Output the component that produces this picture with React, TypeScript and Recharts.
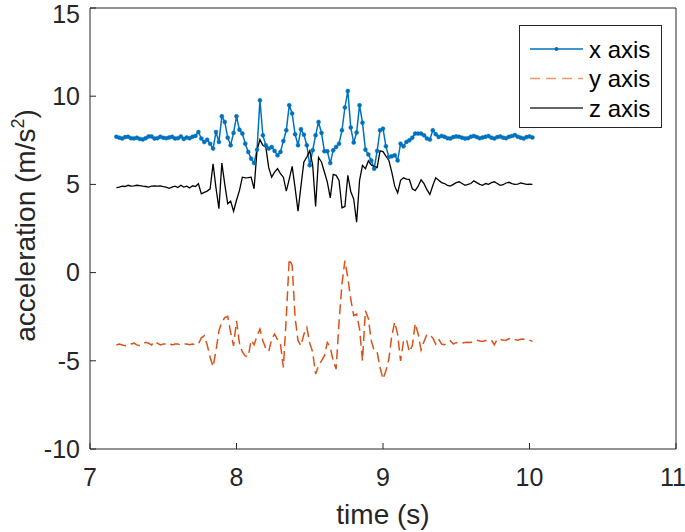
import React from 'react'
import { LineChart, Line, XAxis, YAxis, Legend, Label } from 'recharts'

// sampling grid of the recording (50 Hz)
const START = 7.18
const STEP = 0.02

const xAxisAcc = [
  7.7, 7.65, 7.6, 7.68, 7.7, 7.62, 7.6, 7.65, 7.58, 7.55, 7.62, 7.72, 7.72, 7.6, 7.62, 7.7, 7.64, 7.62, 7.66, 7.7,
  7.6, 7.62, 7.72, 7.58, 7.66, 7.62, 7.7, 7.75,
  7.97, 7.6, 7.4, 7.53, 7.3, 7.03, 7.97, 7.4, 8.86, 8.54, 7.65, 7.22, 7.92, 8.86, 8.1, 7.88, 7.31, 6.84, 6.46, 6.21,
  6.97, 9.77, 7.78, 7.22, 7.03, 7.12, 6.9, 6.65,
  6.84, 7.46, 8.07, 9.49, 9.02, 7.84, 7.22, 8.13, 7.82, 7.22, 6.08, 6.93, 7.78, 8.54, 7.92, 6.88, 6.88, 6.21, 6.93,
  7.12, 7.31, 8.07, 9.36, 10.3, 8.22, 7.37, 7.94, 9.49, 8.5, 6.97, 6.7, 6.36, 5.89, 6.9, 8.07, 8.16, 7.16, 6.55, 6.59,
  6.65, 6.36, 7.31, 7.16, 7.41, 7.5, 7.65, 7.88, 7.88, 7.88, 7.78, 7.6, 7.54, 8.07, 7.84, 7.69,
  7.75, 7.7, 7.62, 7.6, 7.68, 7.72, 7.7, 7.65, 7.6, 7.62, 7.7, 7.75, 7.68, 7.62, 7.66, 7.7, 7.74, 7.65, 7.6, 7.68,
  7.72, 7.65, 7.62, 7.7, 7.74, 7.8, 7.7, 7.65, 7.6, 7.68, 7.72, 7.66,
]

const yAxisAcc = [
  -4.1, -4.05, -4.1, -4.15, -4.1, -4.05, -4.0, -4.1, -4.15, -4.05, -3.95, -4.0, -4.1, -3.9, -4.0, -4.1, -4.05, -4.05,
  -4.0, -4.1, -4.05, -4.05, -4.1, -4.05, -4.05,
  -4.09, -4.05, -4.08, -4.05, -3.7, -3.58, -4.1, -4.8, -5.34, -4.43,
  -3.3, -2.8, -2.55, -2.48, -3.39, -4.15, -2.73, -4.0, -4.5, -4.72,
  -4.77, -3.83, -4.09, -3.6, -3.2, -3.86, -4.3, -4.47, -3.77, -3.48,
  -3.8, -4.05, -5.38, -2.5, 0.78, 0.4, -2.54, -3.86, -4.15, -3.5,
  -3.11, -4.0, -4.5, -5.75, -5.28, -5.0, -4.72, -3.96, -4.24, -5.0,
  -5.47, -2.8, -0.64, 0.68, -0.3, -1.5, -2.44, -2.35, -3.2, -5.0,
  -2.16, -2.6, -3.86, -4.43, -4.5, -5.38, -6.04, -5.57, -4.9, -3.6,
  -2.8, -3.5, -5.0, -3.9, -3.77, -4.5, -4.15, -2.88, -3.48, -4.39,
  -3.9, -3.5, -3.55, -3.7, -4.05, -3.77, -4.05, -4.09, -4.0, -3.86,
  -4.05, -3.96, -4.02, -4.0, -3.96, -3.95, -3.96, -3.9, -3.83, -3.88,
  -3.9, -3.85, -3.83, -3.83, -4.09, -3.77, -3.8, -3.82, -3.83, -3.75,
  -3.71, -3.8, -3.83, -3.78, -3.77, -3.8, -3.83, -3.9,
]

const zAxisAcc = [
  4.82, 4.85, 4.9, 4.88, 4.95, 4.9, 4.92, 4.95, 4.93, 4.9, 4.88, 4.85, 4.9, 4.92, 4.9, 4.92, 4.88, 4.85, 4.78, 4.85,
  4.9, 4.82, 4.95, 4.85, 4.9, 4.8, 4.92, 4.88,
  5.04, 4.47, 4.55, 4.62, 4.75, 6.17, 4.8, 3.62, 6.21, 5.0,
  3.9, 4.05, 3.48, 4.1, 4.65, 5.41, 5.37, 5.38, 5.41, 4.75,
  6.93, 7.54, 7.22, 7.12, 5.95, 5.41, 5.7, 5.89, 5.61, 5.41,
  4.62, 5.3, 6.02, 4.8, 3.48, 4.9, 6.27, 6.55, 6.9, 6.1,
  3.75, 6.52, 6.27, 5.7, 5.13, 4.24, 5.57, 5.51, 5.23, 3.67,
  3.75, 5.51, 4.6, 4.17, 2.86, 5.23, 6.08, 5.89, 6.33, 6.1,
  6.02, 5.95, 6.9, 6.86, 6.6, 6.36, 5.7, 4.9, 4.52, 5.23,
  5.37, 5.3, 5.28, 4.75, 4.65, 4.9, 5.26, 5.04, 4.7, 4.43,
  4.94, 5.37, 5.23,
  5.1, 5.05, 4.95, 4.9, 5.0, 5.1, 5.15, 5.05, 4.95, 5.0, 5.05, 5.2, 5.1, 5.0, 4.95, 5.05, 5.0, 5.1, 5.15, 5.05,
  4.95, 4.98, 5.08, 5.12, 5.05, 5.0, 5.02, 5.08, 5.05, 5.0, 5.02, 5.0,
]

const timeTicks = [7, 8, 9, 10, 11]
const accTicks = [-10, -5, 0, 5, 10, 15]
const seriesNames = ['x axis', 'y axis', 'z axis']

const BLUE = '#0072BD'
const ORANGE = '#D95319'
const AXIS = '#262626'
const FONT = '"Liberation Sans", Arial, Helvetica, sans-serif'

const data = xAxisAcc.map((v, i) => ({
  t: +(START + i * STEP).toFixed(2),
  x: v,
  y: yAxisAcc[i],
  z: zAxisAcc[i],
}))

const tickStyle = { fill: AXIS, fontSize: 25, fontFamily: FONT }

const LegendBox = () => {
  const rows = [
    { name: seriesNames[0], color: BLUE, dash: undefined, dot: true },
    { name: seriesNames[1], color: '#F09870', dash: '10 6', dot: false },
    { name: seriesNames[2], color: '#333', dash: undefined, dot: false },
  ]
  return (
    <svg width={143} height={103} style={{ display: 'block' }}>
      <rect x={0.5} y={0.5} width={142} height={102} fill="#fff" stroke={AXIS} strokeWidth={1} />
      {rows.map((r, i) => {
        const cy = 24 + i * 29.5
        return (
          <g key={r.name}>
            <line x1={11} x2={64} y1={cy} y2={cy} stroke={r.color} strokeWidth={1.5} strokeDasharray={r.dash} />
            {r.dot && <circle cx={37.5} cy={cy} r={2} fill={r.color} />}
            <text x={70} y={cy + 8.5} fontSize={24} fontFamily={FONT} fill="#000">{r.name}</text>
          </g>
        )
      })}
    </svg>
  )
}

const XLabel = ({ viewBox }: any) => (
  <text x={viewBox.x + viewBox.width / 2} y={viewBox.y + 75} textAnchor="middle" fontSize={28} fontFamily={FONT} fill={AXIS}>
    time (s)
  </text>
)

const YLabel = ({ viewBox }: any) => {
  const cx = 35
  const cy = viewBox.y + viewBox.height / 2 - 3
  return (
    <text x={cx} y={cy} transform={`rotate(-90, ${cx}, ${cy})`} textAnchor="middle" fontSize={28} fontFamily={FONT} fill={AXIS}>
      acceleration (m/s<tspan fontSize={18} dy={-11}>2</tspan><tspan dy={11}>)</tspan>
    </text>
  )
}

export default function App() {
  return (
    <div style={{ position: 'absolute', left: 0, top: 0, width: 685, height: 532, background: '#fff' }}>
      <LineChart width={685} height={532} data={data} margin={{ top: 7, right: 8, left: 0, bottom: 0 }}>
        <XAxis
          dataKey="t" type="number" domain={[7, 11]} ticks={timeTicks} allowDataOverflow
          height={83} stroke={AXIS} tick={tickStyle} tickSize={-6} tickMargin={25}
        >
          <Label content={<XLabel />} />
        </XAxis>
        <XAxis
          xAxisId="top" orientation="top" dataKey="t" type="number" domain={[7, 11]} ticks={timeTicks}
          allowDataOverflow height={1} stroke={AXIS} tick={false} tickSize={-6}
        />
        <YAxis
          type="number" domain={[-10, 15]} ticks={accTicks} allowDataOverflow
          width={90} stroke={AXIS} tick={tickStyle} tickSize={-6} tickMargin={16}
        >
          <Label content={<YLabel />} />
        </YAxis>
        <YAxis
          yAxisId="right" orientation="right" type="number" domain={[-10, 15]} ticks={accTicks}
          allowDataOverflow width={1} stroke={AXIS} tick={false} tickSize={-6}
        />
        <Legend
          layout="vertical" align="center" verticalAlign="middle"
          wrapperStyle={{ left: 519, top: 25, width: 143, height: 103 }}
          content={() => <LegendBox />}
        />
        <Line
          dataKey="x" name={seriesNames[0]} stroke={BLUE} strokeWidth={1.5} isAnimationActive={false}
          dot={{ r: 2, fill: BLUE, stroke: BLUE, strokeWidth: 0.5 }} activeDot={false}
        />
        <Line
          dataKey="y" name={seriesNames[1]} stroke={ORANGE} strokeWidth={1.5} strokeDasharray="10 5"
          isAnimationActive={false} dot={false} activeDot={false}
        />
        <Line
          dataKey="z" name={seriesNames[2]} stroke="#000" strokeWidth={1.3} isAnimationActive={false}
          dot={false} activeDot={false}
        />
      </LineChart>
    </div>
  )
}
